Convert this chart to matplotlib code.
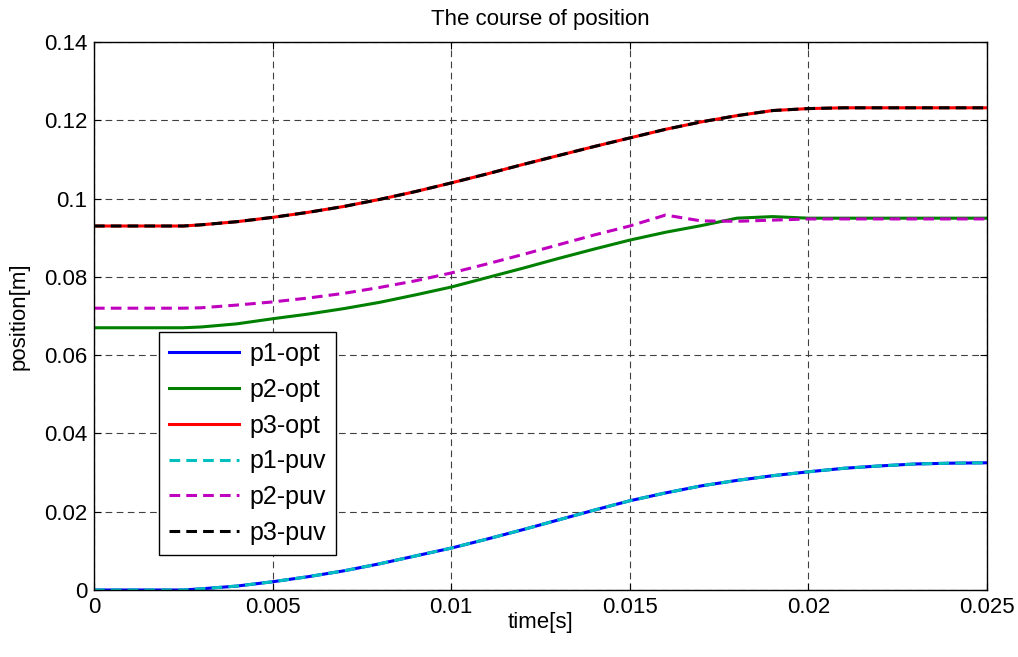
import matplotlib
matplotlib.use("Agg")
import matplotlib.pyplot as plt

plt.rcParams['font.family'] = ['Liberation Sans', 'DejaVu Sans']

# time axis [s]
t = [0, 0.0025, 0.003, 0.004, 0.005, 0.006, 0.007, 0.008, 0.009, 0.010,
     0.011, 0.012, 0.013, 0.014, 0.015, 0.016, 0.017, 0.018, 0.019, 0.020,
     0.021, 0.022, 0.023, 0.024, 0.025]

# optimal trajectories
p1_opt = [0.0, 0.0, 0.0003, 0.0010, 0.0021, 0.0034, 0.0049, 0.0067, 0.0087, 0.0107,
          0.0130, 0.0154, 0.0179, 0.0204, 0.0228, 0.0248, 0.0266, 0.0280, 0.0292, 0.0302,
          0.0311, 0.0317, 0.0322, 0.0324, 0.0325]
p2_opt = [0.067, 0.067, 0.0672, 0.0680, 0.0693, 0.0705, 0.0719, 0.0735, 0.0754, 0.0774,
          0.0798, 0.0822, 0.0847, 0.0871, 0.0894, 0.0914, 0.0931, 0.0950, 0.0954, 0.0950,
          0.0950, 0.0950, 0.0950, 0.0950, 0.0950]
p3_opt = [0.093, 0.093, 0.0933, 0.0941, 0.0952, 0.0965, 0.0980, 0.0998, 0.1018, 0.1040,
          0.1063, 0.1087, 0.1110, 0.1133, 0.1155, 0.1177, 0.1196, 0.1212, 0.1225, 0.1230,
          0.1232, 0.1232, 0.1232, 0.1232, 0.1232]

# puv trajectories
p1_puv = p1_opt
p2_puv = [0.072, 0.072, 0.0721, 0.0728, 0.0736, 0.0746, 0.0758, 0.0773, 0.0790, 0.0810,
          0.0833, 0.0857, 0.0882, 0.0907, 0.0930, 0.0958, 0.0943, 0.0942, 0.0945, 0.0948,
          0.0948, 0.0948, 0.0948, 0.0948, 0.0948]
p3_puv = p3_opt

fig = plt.figure(figsize=(10.18, 6.57), dpi=100)
ax = fig.add_axes([0.0923, 0.102, 0.8773, 0.834])

ax.plot(t, p1_opt, color='#0000ff', lw=2.2, label='p1-opt')
ax.plot(t, p2_opt, color='#008000', lw=2.2, label='p2-opt')
ax.plot(t, p3_opt, color='#ff0000', lw=2.2, label='p3-opt')
ax.plot(t, p1_puv, color='#00bfbf', lw=2.2, dashes=(3.5, 2), label='p1-puv')
ax.plot(t, p2_puv, color='#bf00bf', lw=2.2, dashes=(3.5, 2), label='p2-puv')
ax.plot(t, p3_puv, color='#000000', lw=2.2, dashes=(3.5, 2), label='p3-puv')

ax.set_xlim(0, 0.025)
ax.set_ylim(0, 0.14)
ax.set_xticks([0, 0.005, 0.01, 0.015, 0.02, 0.025])
ax.set_xticklabels(['0', '0.005', '0.01', '0.015', '0.02', '0.025'])
ax.set_yticks([0, 0.02, 0.04, 0.06, 0.08, 0.1, 0.12, 0.14])
ax.set_yticklabels(['0', '0.02', '0.04', '0.06', '0.08', '0.1', '0.12', '0.14'])

ax.grid(True, color='#404040', linestyle=(0, (6, 4)), linewidth=0.8)
ax.tick_params(direction='in', top=True, right=True, labelsize=16, length=5, pad=5)
for s in ax.spines.values():
    s.set_linewidth(1.0)

ax.set_title('The course of position', fontsize=16, pad=12)
ax.set_xlabel('time[s]', fontsize=16, labelpad=-4)
ax.set_ylabel('position[m]', fontsize=16, labelpad=10)

leg = ax.legend(loc='lower left', bbox_to_anchor=(0.0728, 0.064), borderaxespad=0,
                fontsize=18, handlelength=2.8, labelspacing=0.47, handletextpad=0.4,
                fancybox=False, edgecolor='black', framealpha=1, borderpad=0.4)
leg.get_frame().set_linewidth(1.0)

fig.savefig('out.png', dpi=100)
